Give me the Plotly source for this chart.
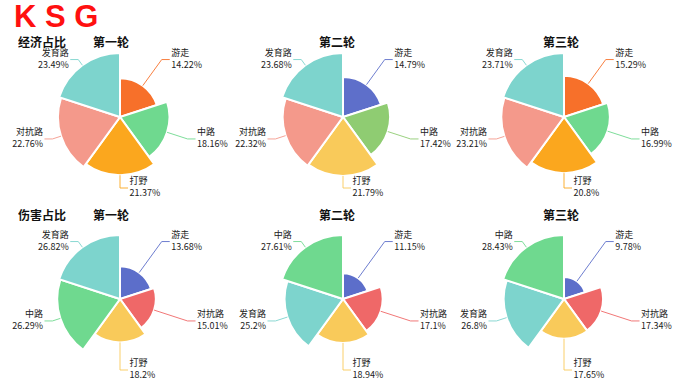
import math
import plotly.graph_objects as go

# ---------------- data ----------------
row_titles = ["经济占比", "伤害占比"]
round_titles = ["第一轮", "第二轮", "第三轮"]

econ_names = ["游走", "中路", "打野", "对抗路", "发育路"]
econ_r1_values = [14.22, 18.16, 21.37, 22.76, 23.49]
econ_r2_values = [14.79, 17.42, 21.79, 22.32, 23.68]
econ_r3_values = [15.29, 16.99, 20.8, 23.21, 23.71]

dmg_r1_names = ["游走", "对抗路", "打野", "中路", "发育路"]
dmg_r1_values = [13.68, 15.01, 18.2, 26.29, 26.82]
dmg_r2_names = ["游走", "对抗路", "打野", "发育路", "中路"]
dmg_r2_values = [11.15, 17.1, 18.94, 25.2, 27.61]
dmg_r3_names = ["游走", "对抗路", "打野", "发育路", "中路"]
dmg_r3_values = [9.78, 17.34, 17.65, 26.8, 28.43]

# ---------------- styles ----------------
pal_warm = {"游走": "#F7702A", "中路": "#6FD98F", "打野": "#FBA71E",
            "对抗路": "#F4998B", "发育路": "#7DD4CD"}
pal_cool = {"游走": "#5E6FCA", "中路": "#8FCC72", "打野": "#F9CA5A",
            "对抗路": "#F4998B", "发育路": "#7DD4CD"}
pal_dmg = {"游走": "#5C6ECA", "中路": "#6FD98F", "打野": "#F9CA5A",
           "对抗路": "#EF6868", "发育路": "#7DD4CD"}

charts = [
    (econ_names, econ_r1_values, pal_warm),
    (econ_names, econ_r2_values, pal_cool),
    (econ_names, econ_r3_values, pal_warm),
    (dmg_r1_names, dmg_r1_values, pal_dmg),
    (dmg_r2_names, dmg_r2_values, pal_dmg),
    (dmg_r3_names, dmg_r3_values, pal_dmg),
]

W, H = 690, 388
centers = [(120, 117), (343, 117), (564, 117), (120, 299), (343, 299), (564, 299)]
PIE_R = 64      # px radius of largest slice
BEND_R = 71     # px radius of label-line bend
SEG = 8         # px horizontal segment
RP = 86         # px polar area radius
GAP = 1.6       # px half-gap between label lines
FONT = "Noto Sans CJK SC"


def to_polar(x, y, s):
    return math.hypot(x, y) * s, math.degrees(math.atan2(x, y)) % 360


fig = go.Figure()
layout_polars = {}

for k, (names, values, pal) in enumerate(charts):
    pid = "polar" if k == 0 else f"polar{k+1}"
    n = len(values)
    step = 360.0 / n
    mids = [step / 2 + step * i for i in range(n)]
    vmax = max(values)
    s = vmax / PIE_R  # data units per px
    colors = [pal[nm] for nm in names]

    fig.add_trace(go.Barpolar(
        r=values, theta=mids, width=[step] * n,
        marker=dict(color=colors, line=dict(color="white", width=2)),
        subplot=pid, hoverinfo="skip", showlegend=False,
    ))

    nr, nt, npos, pr, pt, ppos, labels_n, labels_p = [], [], [], [], [], [], [], []
    for i, (nm, v) in enumerate(zip(names, values)):
        th = math.radians(mids[i])
        d = 1 if math.sin(th) > -1e-6 else -1
        bx, by = BEND_R * math.sin(th), BEND_R * math.cos(th)
        ex, ey = bx + d * SEG, by
        re, te = to_polar(ex, ey, s)
        fig.add_trace(go.Scatterpolar(
            r=[v, BEND_R * s, re], theta=[mids[i], mids[i], te],
            mode="lines", line=dict(color=pal[nm], width=0.9),
            subplot=pid, hoverinfo="skip", showlegend=False,
        ))
        tx = ex + d * 1.5
        side = "right" if d > 0 else "left"
        a, b = to_polar(tx, ey + GAP, s)
        nr.append(a); nt.append(b); npos.append("top " + side)
        a, b = to_polar(tx, ey - GAP, s)
        pr.append(a); pt.append(b); ppos.append("bottom " + side)
        labels_n.append(nm)
        labels_p.append(f"{v:g}%")
    fig.add_trace(go.Scatterpolar(
        r=nr, theta=nt, mode="text", text=labels_n,
        textposition=npos, textfont=dict(family=FONT, size=9, color="#222"),
        marker=dict(size=1), cliponaxis=False,
        subplot=pid, hoverinfo="skip", showlegend=False,
    ))
    fig.add_trace(go.Scatterpolar(
        r=pr, theta=pt, mode="text", text=labels_p,
        textposition=ppos, textfont=dict(family=FONT, size=9, color="#222"),
        marker=dict(size=1), cliponaxis=False,
        subplot=pid, hoverinfo="skip", showlegend=False,
    ))

    cx, cy = centers[k]
    layout_polars[pid] = dict(
        domain=dict(x=[(cx - RP) / W, (cx + RP) / W],
                    y=[1 - (cy + RP) / H, 1 - (cy - RP) / H]),
        bgcolor="rgba(0,0,0,0)",
        angularaxis=dict(rotation=90, direction="clockwise", visible=False,
                         type="linear", thetaunit="degrees"),
        radialaxis=dict(visible=False, range=[0, vmax * RP / PIE_R]),
    )

annotations = [
    dict(text="<b>K S G</b>", x=12 / W, y=1 - 16.5 / H, xref="paper", yref="paper",
         xanchor="left", yanchor="middle", showarrow=False, height=28,
         font=dict(family="Liberation Sans", size=31, color="#FF1010")),
]
title_x = [110.5, 336.5, 560.5]
title_y = [41.5, 214]
for r in range(2):
    annotations.append(dict(text=f"<b>{row_titles[r]}</b>", x=16 / W, y=1 - title_y[r] / H,
                            xref="paper", yref="paper", xanchor="left", yanchor="middle",
                            showarrow=False, height=13,
                            font=dict(family=FONT, size=12, color="#111")))
    for c in range(3):
        annotations.append(dict(text=f"<b>{round_titles[c]}</b>", x=title_x[c] / W,
                                y=1 - title_y[r] / H, xref="paper", yref="paper",
                                xanchor="center", yanchor="middle", showarrow=False,
                                height=13,
                                font=dict(family=FONT, size=12, color="#111")))

fig.update_layout(
    width=W, height=H, margin=dict(l=0, r=0, t=0, b=0),
    paper_bgcolor="white", plot_bgcolor="white",
    showlegend=False, annotations=annotations, **layout_polars,
)
fig.write_html("out.html")
